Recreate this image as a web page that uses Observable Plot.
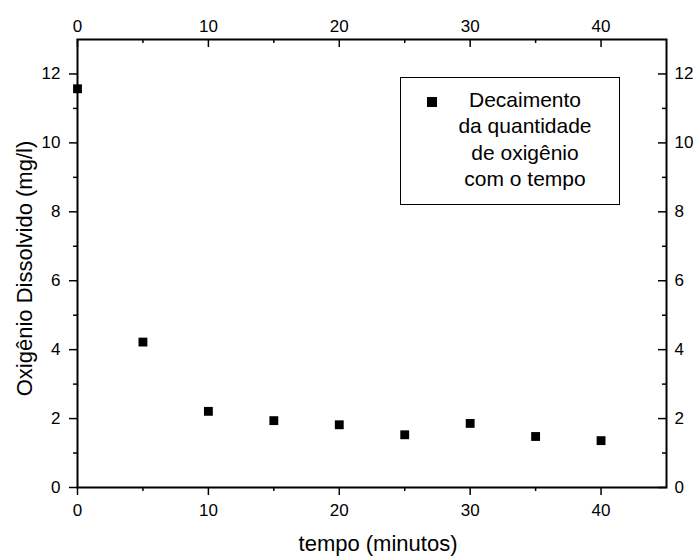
<!DOCTYPE html>
<html>
<head>
<meta charset="utf-8">
<script src="https://cdn.jsdelivr.net/npm/d3@7"></script>
<script src="https://cdn.jsdelivr.net/npm/@observablehq/plot@0.6"></script>
<style>
  html, body { margin: 0; padding: 0; background: #fff; }
  #wrap { position: relative; width: 695px; height: 556px; font-family: "Liberation Sans", Arial, sans-serif; }
  #legend { position: absolute; left: 400px; top: 77px; width: 220px; height: 128px; border: 1.5px solid #000; background: #fff; box-sizing: border-box; }
  #legend .sym { position: absolute; left: 26px; top: 19px; width: 10px; height: 10px; background: #000; }
  #legend .txt { position: absolute; left: 0; top: 9px; width: 248px; text-align: center; font-size: 21px; line-height: 26.3px; color: #000; }
</style>
</head>
<body>
<div id="wrap"></div>
<script>
// Data
const times = [0, 5, 10, 15, 20, 25, 30, 35, 40];
const oxygen = [11.57, 4.22, 2.21, 1.94, 1.82, 1.53, 1.86, 1.48, 1.36];
const xTicks = [0, 10, 20, 30, 40];
const xMinor = [5, 15, 25, 35];
const yTicks = [0, 2, 4, 6, 8, 10, 12];
const yMinor = [1, 3, 5, 7, 9, 11];
const xLabel = "tempo (minutos)";
const yLabel = "Oxigênio Dissolvido (mg/l)";
const legendLines = ["Decaimento", "da quantidade", "de oxigênio", "com o tempo"];

const data = times.map((t, i) => ({t, o: oxygen[i]}));

const W = 695, H = 556, mL = 77, mR = 29, mT = 39, mB = 69;
const fw = W - mL - mR, fh = H - mT - mB;

const chart = Plot.plot({
  width: W, height: H,
  marginLeft: mL, marginRight: mR, marginTop: mT, marginBottom: mB,
  x: {domain: [0, 45]},
  y: {domain: [0, 13]},
  style: {fontFamily: "'Liberation Sans', Arial, sans-serif", fontSize: "17px", color: "#000", background: "#fff"},
  marks: [
    // bottom axis (outward ticks)
    Plot.axisX(xTicks, {anchor: "bottom", tickSize: 8, fill: "none", strokeWidth: 1.5, label: null}),
    Plot.axisX(xMinor, {anchor: "bottom", tickSize: 4, fill: "none", strokeWidth: 1.5, label: null}),
    Plot.axisX(xTicks, {anchor: "bottom", tickSize: 0, tickPadding: 16, label: null, fontSize: 17}),
    // top axis (inward ticks)
    Plot.axisX(xTicks, {anchor: "top", tickSize: 0, tickPadding: 8, label: null, fontSize: 17}),
    Plot.tickX(xTicks, {x: d => d, insetBottom: fh - 8, strokeWidth: 1.5}),
    Plot.tickX(xMinor, {x: d => d, insetBottom: fh - 4, strokeWidth: 1.5}),
    // left axis (outward ticks)
    Plot.axisY(yTicks, {anchor: "left", tickSize: 8, fill: "none", strokeWidth: 1.5, label: null}),
    Plot.axisY(yMinor, {anchor: "left", tickSize: 4, fill: "none", strokeWidth: 1.5, label: null}),
    Plot.axisY(yTicks, {anchor: "left", tickSize: 0, tickPadding: 17, label: null, fontSize: 17}),
    // right axis (inward ticks)
    Plot.axisY(yTicks, {anchor: "right", tickSize: 0, tickPadding: 8, label: null, fontSize: 17}),
    Plot.tickY(yTicks, {y: d => d, insetLeft: fw - 8, strokeWidth: 1.5}),
    Plot.tickY(yMinor, {y: d => d, insetLeft: fw - 4, strokeWidth: 1.5}),
    Plot.frame({stroke: "#000", strokeWidth: 2}),
    // axis titles
    Plot.text([xLabel], {text: d => d, frameAnchor: "bottom", textAnchor: "middle", lineAnchor: "middle", dx: 6, dy: 56, fontSize: 22, fill: "#000"}),
    Plot.text([yLabel], {text: d => d, frameAnchor: "left", textAnchor: "middle", lineAnchor: "middle", rotate: -90, dx: -53, dy: 5, fontSize: 22, fill: "#000"}),
    // data
    Plot.dot(data, {x: "t", y: "o", symbol: "square", r: 5, fill: "#000", stroke: null})
  ]
});

const wrap = document.getElementById("wrap");
wrap.appendChild(chart);
const leg = document.createElement("div");
leg.id = "legend";
leg.innerHTML = `<div class="sym"></div><div class="txt">${legendLines.join("<br>")}</div>`;
wrap.appendChild(leg);
</script>
</body>
</html>
